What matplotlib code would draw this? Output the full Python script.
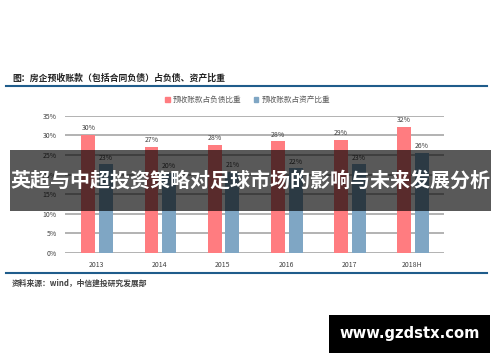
import matplotlib

matplotlib.use("Agg")
import matplotlib.pyplot as plt
import numpy as np
from matplotlib.patches import Rectangle
from matplotlib.lines import Line2D

plt.rcParams["font.family"] = ["Noto Sans CJK SC", "DejaVu Sans"]

years = ["2013", "2014", "2015", "2016", "2017", "2018H"]
debt_share = [30.1, 27.0, 27.5, 28.5, 28.9, 32.2]
asset_share = [22.6, 20.5, 20.7, 21.6, 22.6, 25.5]
series_names = ["预收账款占负债比重", "预收账款占资产比重"]
yticks = [0, 5, 10, 15, 20, 25, 30, 35]

title = "图：房企预收账款（包括合同负债）占负债、资产比重"
source = "资料来源：wind，中信建投研究发展部"
banner = "英超与中超投资策略对足球市场的影响与未来发展分析"
site = "www.gzdstx.com"

red = "#FF7C80"
blue = "#7FA6C4"
line_blue = "#1F5C8B"

fig = plt.figure(figsize=(5.0, 3.62), dpi=100)
ax = fig.add_axes([0.13, 0.301, 0.758, 0.379])

x = np.arange(len(years))
w = 0.22
b1 = ax.bar(x - 0.13, debt_share, w, color=red, zorder=3)
b2 = ax.bar(x + 0.15, asset_share, w, color=blue, zorder=3)
ax.bar_label(b1, fmt="%.0f%%", padding=2, fontsize=5, color="#404040")
ax.bar_label(b2, fmt="%.0f%%", padding=2, fontsize=5, color="#404040")

ax.set_xlim(-0.5, len(years) - 0.5)
ax.set_ylim(0, 35)
ax.set_yticks(yticks)
ax.set_yticklabels([f"{t}%" for t in yticks], fontsize=5, color="#404040")
ax.set_xticks(x)
ax.set_xticklabels(years, fontsize=5, color="#404040")
ax.tick_params(length=0, pad=6)
ax.yaxis.grid(True, color="#A6A6A6", linewidth=1.2, zorder=0)
for s in ax.spines.values():
    s.set_visible(False)

handles = [Rectangle((0, 0), 1, 1, color=red), Rectangle((0, 0), 1, 1, color=blue)]
fig.legend(handles, series_names, loc="center", bbox_to_anchor=(0.495, 0.724),
           ncol=2, frameon=False, fontsize=5.5, handlelength=0.6, handleheight=0.6,
           handletextpad=0.4, columnspacing=1.6, labelcolor="#595959")

fig.text(0.024, 0.785, title, fontsize=6.4, fontweight="bold", color="#222222", va="center")
fig.add_artist(Line2D([0.012, 0.974], [0.762, 0.762], color=line_blue, linewidth=1.5))
fig.add_artist(Line2D([0.012, 0.974], [0.246, 0.246], color=line_blue, linewidth=1.5))
fig.text(0.024, 0.218, source, fontsize=5.6, style="italic", fontweight="bold",
         color="#404040", va="center")

fig.add_artist(Rectangle((0.02, 0.416), 0.962, 0.17, transform=fig.transFigure,
                         facecolor="black", alpha=0.65, edgecolor="none", zorder=10))
fig.text(0.5, 0.501, banner, fontsize=14.4, fontweight="bold", color="white",
         ha="center", va="center", zorder=11)

fig.add_artist(Rectangle((0.658, 0.026), 0.322, 0.104, transform=fig.transFigure,
                         facecolor="black", edgecolor="none", zorder=10))
fig.text(0.819, 0.078, site, fontsize=10.6, fontweight="bold", color="white",
         family="DejaVu Sans", ha="center", va="center", zorder=11)

fig.savefig("out.png", dpi=100)
